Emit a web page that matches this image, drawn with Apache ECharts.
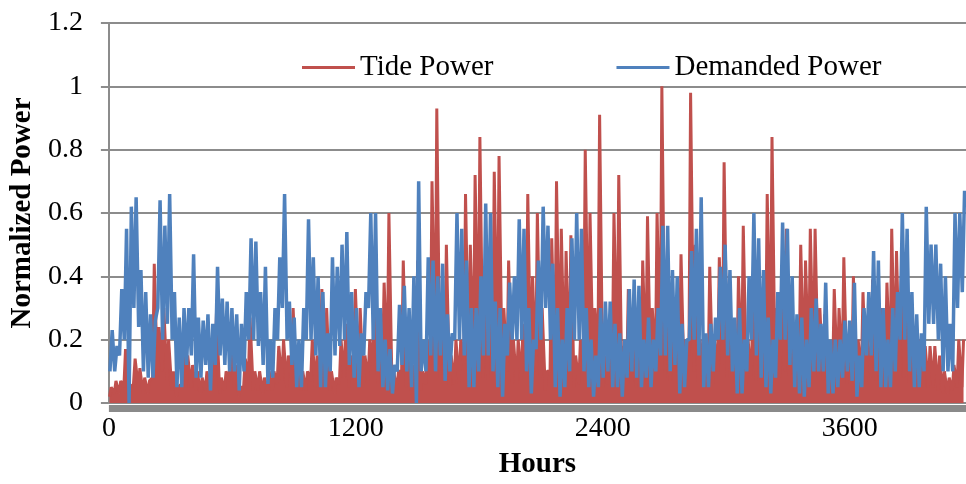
<!DOCTYPE html>
<html>
<head>
<meta charset="utf-8">
<title>Tide Power vs Demanded Power</title>
<script src="https://cdn.jsdelivr.net/npm/echarts@6/dist/echarts.min.js"></script>
<style>
  html, body { margin: 0; padding: 0; background: #ffffff; }
  #chart { width: 966px; height: 484px; }
</style>
</head>
<body>
<div id="chart"></div>
<script>
// readings taken from the plot roughly once per day (one sample every ~23.3 h)
const HOURS_PER_SAMPLE = 23.27;
const xTicks = [0, 1200, 2400, 3600];

// daily high / low of the demanded power (blue)
const demandPeak = [
    0.23, 0.18, 0.36, 0.55, 0.62, 0.65, 0.42, 0.35, 0.28, 0.26,
    0.64, 0.56, 0.66, 0.35, 0.27, 0.30, 0.30, 0.47, 0.27, 0.26,
    0.28, 0.25, 0.43, 0.33, 0.32, 0.30, 0.28, 0.25, 0.35, 0.52,
    0.51, 0.35, 0.43, 0.20, 0.30, 0.46, 0.66, 0.32, 0.27, 0.20,
    0.30, 0.58, 0.46, 0.40, 0.35, 0.22, 0.46, 0.43, 0.50, 0.54,
    0.35, 0.30, 0.22, 0.35, 0.60, 0.60, 0.30, 0.20, 0.17, 0.12,
    0.31, 0.37, 0.30, 0.40, 0.70, 0.20, 0.46, 0.45, 0.40, 0.44,
    0.28, 0.22, 0.60, 0.55, 0.45, 0.30, 0.30, 0.40, 0.63, 0.60,
    0.32, 0.30, 0.25, 0.38, 0.40, 0.58, 0.55, 0.30, 0.20, 0.45,
    0.62, 0.56, 0.44, 0.30, 0.20, 0.30, 0.52, 0.60, 0.55, 0.30,
    0.20, 0.15, 0.30, 0.32, 0.32, 0.25, 0.22, 0.20, 0.36, 0.39,
    0.37, 0.20, 0.27, 0.20, 0.30, 0.56, 0.56, 0.42, 0.40, 0.25,
    0.20, 0.48, 0.55, 0.65, 0.22, 0.25, 0.27, 0.43, 0.50, 0.42,
    0.27, 0.30, 0.20, 0.40, 0.60, 0.52, 0.42, 0.27, 0.20, 0.35,
    0.57, 0.55, 0.40, 0.28, 0.27, 0.20, 0.30, 0.33, 0.25, 0.38,
    0.20, 0.20, 0.20, 0.26, 0.26, 0.38, 0.15, 0.30, 0.35, 0.48,
    0.45, 0.30, 0.20, 0.30, 0.35, 0.60, 0.55, 0.35, 0.28, 0.22,
    0.62, 0.50, 0.50, 0.44, 0.40, 0.25, 0.60, 0.60, 0.67
];
const demandLow = [
    0.10, 0.10, 0.15, 0.20, 0.00, 0.30, 0.24, 0.10, 0.08, 0.08,
    0.30, 0.20, 0.25, 0.20, 0.05, 0.05, 0.12, 0.15, 0.08, 0.08,
    0.12, 0.04, 0.12, 0.15, 0.12, 0.10, 0.10, 0.04, 0.10, 0.20,
    0.20, 0.18, 0.12, 0.06, 0.08, 0.20, 0.30, 0.20, 0.12, 0.05,
    0.05, 0.20, 0.20, 0.15, 0.05, 0.05, 0.10, 0.15, 0.18, 0.20,
    0.12, 0.08, 0.05, 0.15, 0.30, 0.20, 0.10, 0.05, 0.04, 0.03,
    0.10, 0.12, 0.10, 0.05, 0.00, 0.10, 0.10, 0.15, 0.10, 0.15,
    0.07, 0.10, 0.20, 0.20, 0.15, 0.05, 0.05, 0.10, 0.15, 0.15,
    0.10, 0.05, 0.02, 0.15, 0.20, 0.20, 0.20, 0.10, 0.03, 0.17,
    0.20, 0.30, 0.20, 0.05, 0.02, 0.05, 0.10, 0.20, 0.20, 0.10,
    0.05, 0.02, 0.05, 0.08, 0.10, 0.05, 0.05, 0.02, 0.08, 0.10,
    0.08, 0.05, 0.08, 0.05, 0.10, 0.15, 0.15, 0.10, 0.12, 0.03,
    0.05, 0.20, 0.20, 0.15, 0.05, 0.05, 0.10, 0.20, 0.20, 0.15,
    0.10, 0.03, 0.03, 0.10, 0.20, 0.15, 0.08, 0.05, 0.03, 0.08,
    0.20, 0.20, 0.12, 0.05, 0.03, 0.02, 0.05, 0.10, 0.10, 0.10,
    0.03, 0.03, 0.05, 0.08, 0.10, 0.07, 0.02, 0.05, 0.15, 0.15,
    0.10, 0.05, 0.05, 0.05, 0.10, 0.20, 0.20, 0.10, 0.05, 0.05,
    0.10, 0.25, 0.25, 0.20, 0.10, 0.10, 0.10, 0.30, 0.35
];

// daily high / low of the tide power (red)
const tidePeak = [
    0.05, 0.07, 0.07, 0.17, 0.05, 0.14, 0.11, 0.08, 0.07, 0.44,
    0.24, 0.30, 0.20, 0.10, 0.05, 0.20, 0.15, 0.12, 0.10, 0.08,
    0.10, 0.16, 0.29, 0.08, 0.10, 0.23, 0.12, 0.05, 0.14, 0.27,
    0.10, 0.10, 0.08, 0.10, 0.10, 0.18, 0.20, 0.15, 0.30, 0.15,
    0.10, 0.10, 0.20, 0.15, 0.36, 0.30, 0.10, 0.08, 0.20, 0.25,
    0.15, 0.36, 0.30, 0.15, 0.20, 0.47, 0.20, 0.38, 0.60, 0.10,
    0.10, 0.45, 0.15, 0.12, 0.45, 0.10, 0.20, 0.70, 0.93, 0.25,
    0.50, 0.15, 0.20, 0.20, 0.66, 0.50, 0.72, 0.84, 0.30, 0.25,
    0.73, 0.78, 0.30, 0.45, 0.20, 0.20, 0.25, 0.66, 0.40, 0.60,
    0.30, 0.10, 0.52, 0.70, 0.55, 0.48, 0.53, 0.15, 0.20, 0.80,
    0.60, 0.30, 0.91, 0.15, 0.20, 0.60, 0.72, 0.18, 0.36, 0.20,
    0.15, 0.45, 0.59, 0.30, 0.60, 1.00, 0.30, 0.25, 0.20, 0.47,
    0.20, 0.98, 0.50, 0.20, 0.20, 0.43, 0.20, 0.46, 0.76, 0.30,
    0.20, 0.40, 0.56, 0.20, 0.30, 0.25, 0.30, 0.66, 0.84, 0.30,
    0.30, 0.55, 0.36, 0.20, 0.50, 0.45, 0.55, 0.55, 0.30, 0.28,
    0.15, 0.36, 0.30, 0.46, 0.20, 0.40, 0.20, 0.35, 0.20, 0.39,
    0.30, 0.30, 0.38, 0.55, 0.48, 0.40, 0.35, 0.25, 0.15, 0.20,
    0.18, 0.18, 0.18, 0.15, 0.10, 0.08, 0.12, 0.20, 0.20
];
const tideLow = [
    0.02, 0.03, 0.03, 0.05, 0.02, 0.06, 0.05, 0.03, 0.03, 0.08,
    0.08, 0.10, 0.07, 0.04, 0.02, 0.06, 0.05, 0.05, 0.04, 0.03,
    0.04, 0.05, 0.08, 0.03, 0.04, 0.07, 0.05, 0.02, 0.05, 0.08,
    0.04, 0.04, 0.03, 0.04, 0.04, 0.06, 0.07, 0.05, 0.08, 0.05,
    0.04, 0.04, 0.07, 0.05, 0.10, 0.08, 0.04, 0.03, 0.06, 0.08,
    0.05, 0.10, 0.08, 0.05, 0.07, 0.12, 0.06, 0.10, 0.12, 0.04,
    0.04, 0.10, 0.05, 0.04, 0.10, 0.04, 0.06, 0.14, 0.15, 0.08,
    0.10, 0.05, 0.06, 0.06, 0.12, 0.10, 0.12, 0.15, 0.08, 0.07,
    0.12, 0.14, 0.08, 0.10, 0.06, 0.06, 0.07, 0.12, 0.08, 0.10,
    0.08, 0.04, 0.10, 0.12, 0.10, 0.10, 0.10, 0.05, 0.06, 0.14,
    0.12, 0.08, 0.15, 0.05, 0.06, 0.12, 0.12, 0.05, 0.08, 0.06,
    0.05, 0.08, 0.10, 0.08, 0.12, 0.15, 0.08, 0.07, 0.06, 0.10,
    0.06, 0.15, 0.10, 0.06, 0.06, 0.08, 0.06, 0.10, 0.12, 0.08,
    0.06, 0.08, 0.10, 0.06, 0.08, 0.07, 0.08, 0.12, 0.14, 0.08,
    0.08, 0.10, 0.08, 0.06, 0.10, 0.08, 0.10, 0.10, 0.08, 0.07,
    0.05, 0.08, 0.07, 0.10, 0.06, 0.08, 0.06, 0.08, 0.06, 0.08,
    0.07, 0.07, 0.08, 0.10, 0.10, 0.08, 0.08, 0.06, 0.04, 0.05,
    0.05, 0.05, 0.05, 0.04, 0.03, 0.03, 0.04, 0.05, 0.05
];

const FONT = "'Liberation Serif', 'DejaVu Serif', serif";
const GRID_GRAY = "#8c8c8c";

function buildSeriesData(lows, peaks, lowOffset, peakOffset) {
    const points = [];
    lows.forEach((low, i) => {
        const start = i * HOURS_PER_SAMPLE;
        points.push([start + lowOffset, low]);
        points.push([start + peakOffset, peaks[i]]);
    });
    return points;
}

const chart = echarts.init(document.getElementById("chart"));

chart.setOption({
    animation: false,
    backgroundColor: "#ffffff",
    grid: { left: 107, right: 0, top: 23, bottom: 81 },
    legend: {
        data: ["Tide Power", "Demanded Power"],
        left: 297,
        top: 48,
        icon: "rect",
        itemWidth: 53,
        itemHeight: 3,
        itemGap: 123,
        textStyle: { fontFamily: FONT, fontSize: 29, color: "#000000" },
    },
    xAxis: {
        type: "value",
        min: 0,
        max: 4165,
        interval: 1200,
        offset: 5,
        z: 10,
        name: "Hours",
        nameLocation: "middle",
        nameGap: 42,
        nameTextStyle: { fontFamily: FONT, fontSize: 29, fontWeight: "bold", color: "#000000" },
        axisLine: { show: true, onZero: false, lineStyle: { color: "#8a8a8a", width: 7, cap: "butt" } },
        axisTick: { show: false },
        splitLine: { show: false },
        axisLabel: {
            margin: 7,
            fontFamily: FONT,
            fontSize: 28,
            color: "#000000",
            showMaxLabel: false,
            formatter(value) {
                return xTicks.includes(value) ? String(value) : "";
            },
        },
    },
    yAxis: {
        type: "value",
        min: 0,
        max: 1.2,
        interval: 0.2,
        name: "Normalized Power",
        nameLocation: "middle",
        nameGap: 70,
        nameTextStyle: { fontFamily: FONT, fontSize: 29, fontWeight: "bold", color: "#000000" },
        axisLine: { show: true, lineStyle: { color: GRID_GRAY, width: 2 } },
        axisTick: { show: true, length: 8, lineStyle: { color: GRID_GRAY, width: 2 } },
        splitLine: { show: true, lineStyle: { color: GRID_GRAY, width: 2 } },
        axisLabel: { margin: 26, fontFamily: FONT, fontSize: 28, color: "#000000" },
    },
    series: [
        {
            name: "Tide Power",
            type: "line",
            data: buildSeriesData(tideLow, tidePeak, 3, 11),
            showSymbol: false,
            color: "#C0504D",
            lineStyle: { width: 3, color: "#C0504D" },
            areaStyle: { color: "#C0504D", opacity: 1 },
            z: 2,
        },
        {
            name: "Demanded Power",
            type: "line",
            data: buildSeriesData(demandLow, demandPeak, 5, 16),
            showSymbol: false,
            color: "#4F81BD",
            lineStyle: { width: 3.5, color: "#4F81BD" },
            z: 3,
        },
    ],
});
</script>
</body>
</html>
